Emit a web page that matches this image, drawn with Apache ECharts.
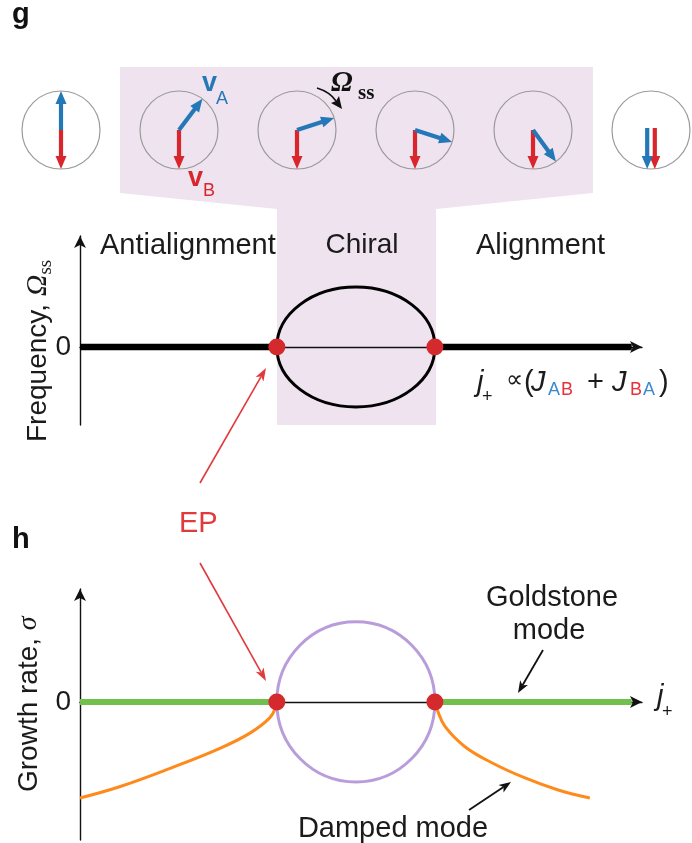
<!DOCTYPE html>
<html><head><meta charset="utf-8">
<script src="https://cdn.jsdelivr.net/npm/echarts@6/dist/echarts.min.js"></script>
<style>html,body{margin:0;padding:0;background:#fff}#c{width:692px;height:843px}</style>
</head><body><div id="c"></div>
<script>
// ---------------- data ----------------
const jRange = [-3.49, 3.62];            // j+ axis extent
const freqRange = [-1.3, 1.85];          // Omega_ss axis extent
const growthRange = [-1.725, 1.41];      // sigma axis extent
const epPoints = [[-1, 0], [1, 0]];      // exceptional points
const freqAntiAlign = [[-3.49, 0], [-1, 0]];
const freqAlign = [[1, 0], [3.49, 0]];
const chiralEllipse = [[0, 1, 1]];       // centre j, half width, half height
const goldstoneLeft = [[-3.49, 0], [-1, 0]];
const goldstoneRight = [[1, 0], [3.49, 0]];
const growthCircle = [[0, 1, 1]];
const dampedLeft = [[-3.49, -1.20], [-2.99, -1.06], [-2.35, -0.83], [-1.72, -0.58], [-1.34, -0.39], [-1.09, -0.20], [-1.01, -0.06], [-1, 0]];
const dampedRight = [[1, 0], [1.03, -0.10], [1.13, -0.31], [1.38, -0.56], [1.72, -0.76], [2.14, -0.95], [2.56, -1.10], [2.96, -1.20]];
const phaseIndex = [0, 1, 2, 3, 4, 5];
const vAAngles = [90, 53, 18, -18, -54, -90];
const vBAngles = [-90, -90, -90, -90, -90, -90];

// ---------------- style ----------------
const SANS = '"Liberation Sans", Arial, Helvetica, sans-serif';
const SERIF = '"Liberation Serif", "DejaVu Serif", serif';
const INK = '#1b1b1b';
const RED = '#d9262c';
const BLUE = '#2478b8';
const EPRED = '#d42a2e';
const GREEN = '#71bf4d';
const ORANGE = '#ff8a1c';
const PURPLE = '#b99ddb';
const SHADE = '#efe3ef';

const mctx = document.createElement('canvas').getContext('2d');
function tw(t, size, family, style, weight) {
  mctx.font = (style || 'normal') + ' ' + (weight || 'normal') + ' ' + size + 'px ' + family;
  return mctx.measureText(t).width;
}
function txt(t, x, y, o) {
  o = o || {};
  return {
    type: 'text', x: x, y: y, z: 100,
    style: {
      text: t, fontSize: o.size || 29, fontFamily: o.family || SANS,
      fontStyle: o.style || 'normal', fontWeight: o.weight || 'normal',
      fill: o.color || INK, align: o.align || 'left', verticalAlign: 'middle',
      textAlign: o.align || 'left', textVerticalAlign: 'middle'
    }
  };
}
// sequential run of pieces starting at x (left), mid-line y
function run(x, y, pieces) {
  const out = []; let cx = x;
  pieces.forEach(p => {
    const size = p.size || 28, fam = p.family || SANS;
    out.push(txt(p.t, cx + (p.dx || 0), y + (p.dy || 0), {size: size, family: fam, style: p.style, weight: p.weight, color: p.color}));
    cx += tw(p.t, size, fam, p.style, p.weight) + (p.dx || 0) + (p.gap || 0);
  });
  return out;
}
function arrowEls(x0, y0, x1, y1, color, lw, hl, hw) {
  const dx = x1 - x0, dy = y1 - y0, L = Math.hypot(dx, dy), ux = dx / L, uy = dy / L;
  const bx = x1 - ux * hl, by = y1 - uy * hl;
  return [
    {type: 'line', z: 50, shape: {x1: x0, y1: y0, x2: bx + ux * 3, y2: by + uy * 3}, style: {stroke: color, lineWidth: lw}},
    {type: 'polygon', z: 50, shape: {points: [[x1, y1], [bx - uy * hw / 2, by + ux * hw / 2], [bx + ux * hl * 0.25, by + uy * hl * 0.25], [bx + uy * hw / 2, by - ux * hw / 2]]}, style: {fill: color}}
  ];
}
function arrowPoly(x0, y0, x1, y1, sw, hl, hw) {
  const dx = x1 - x0, dy = y1 - y0, L = Math.hypot(dx, dy), ux = dx / L, uy = dy / L, nx = -uy, ny = ux;
  const bx = x1 - ux * hl, by = y1 - uy * hl;
  return [[x0 + nx * sw / 2, y0 + ny * sw / 2], [bx + nx * sw / 2, by + ny * sw / 2], [bx + nx * hw / 2, by + ny * hw / 2], [x1, y1],
          [bx - nx * hw / 2, by - ny * hw / 2], [bx - nx * sw / 2, by - ny * sw / 2], [x0 - nx * sw / 2, y0 - ny * sw / 2]];
}

// ---------------- graphics (annotations) ----------------
const g = [];
g.push({type: 'polygon', z: -10, shape: {points: [[120, 67], [593, 67], [593, 193], [436, 209], [436, 425], [277, 425], [277, 209], [120, 193]]}, style: {fill: SHADE}});
g.push(txt('g', 12, 15, {weight: 'bold', size: 29, color: '#111'}));
g.push(txt('h', 12, 540, {weight: 'bold', size: 29, color: '#111'}));
// vA, vB, Omega_ss
g.push(txt('v', 202, 83.5, {weight: 'bold', size: 27, color: BLUE}));
g.push(txt('A', 216, 99, {size: 18, color: BLUE}));
g.push(txt('v', 188, 178.5, {weight: 'bold', size: 27, color: RED}));
g.push(txt('B', 203, 191, {size: 18, color: RED}));
g.push(txt('\u03A9', 331, 84, {family: SERIF, style: 'italic', weight: 'bold', size: 29, color: '#111'}));
g.push(txt('ss', 358, 93.5, {family: SERIF, weight: 'bold', size: 21, color: '#111'}));
g.push({type: 'bezierCurve', z: 50, shape: {x1: 317, y1: 88, cpx1: 330, cpy1: 92, x2: 336, y2: 101}, style: {stroke: '#111', lineWidth: 1.6, fill: 'none'}});
g.push({type: 'polygon', z: 50, shape: {points: [[342, 109], [331, 103], [336, 101], [339, 96]]}, style: {fill: '#111'}});
// regime labels
g.push(txt('Antialignment', 100, 245.6));
g.push(txt('Chiral', 362, 245.6, {size: 28, align: 'center'}));
g.push(txt('Alignment', 476, 245.6));
// x label panel g
g.push(txt('j', 477, 383, {style: 'italic'}));
g.push(txt('+', 482, 397, {size: 18}));
g.push(txt('\u221D', 506, 381, {size: 24, family: '"DejaVu Sans", ' + SANS}));
g.push(txt('(', 524, 383));
g.push(txt('J', 531, 383, {style: 'italic'}));
g.push(txt('A', 548, 390, {size: 18, color: '#3b8ad0'}));
g.push(txt('B', 561, 390, {size: 18, color: '#e6323a'}));
g.push(txt('+', 587, 383));
g.push(txt('J', 612, 383, {style: 'italic'}));
g.push(txt('B', 630, 390, {size: 18, color: '#e6323a'}));
g.push(txt('A', 643, 390, {size: 18, color: '#3b8ad0'}));
g.push(txt(')', 659, 383));
// y names (rotated)
g.push({type: 'group', x: 38, y: 442, rotation: Math.PI / 2, z: 100, children: run(0, 0, [
  {t: 'Frequency, '},
  {t: '\u03A9', family: SERIF, style: 'italic', size: 30},
  {t: 'ss', family: SERIF, size: 19, dy: 8}
])});
g.push({type: 'group', x: 29, y: 792, rotation: Math.PI / 2, z: 100, children: run(0, 0, [
  {t: 'Growth rate, '},
  {t: '\u03C3', family: SERIF, style: 'italic'}
])});
// EP label and arrows
g.push(txt('EP', 179, 523.5, {color: '#e0393e'}));
arrowEls(200, 483, 266, 368, '#e0393e', 1.6, 13, 9).forEach(e => g.push(e));
arrowEls(200, 563, 266, 681, '#e0393e', 1.6, 13, 9).forEach(e => g.push(e));
// panel h labels
g.push(txt('Goldstone', 552, 597.5, {align: 'center'}));
g.push(txt('mode', 549, 630.5, {align: 'center'}));
g.push(txt('Damped mode', 393, 828.5, {align: 'center'}));
arrowEls(543, 650, 518, 693, '#111', 1.8, 12, 9).forEach(e => g.push(e));
arrowEls(469, 810, 511, 782, '#111', 1.8, 12, 9).forEach(e => g.push(e));
g.push(txt('j', 657, 697, {style: 'italic'}));
g.push(txt('+', 662, 712, {size: 18}));

// ---------------- axes ----------------
function jAxis(gi) {
  return {gridIndex: gi, type: 'value', min: jRange[0], max: jRange[1],
    axisLine: {show: true, onZero: true, symbol: ['none', 'arrow'], symbolSize: [9, 12], lineStyle: {color: '#111', width: 1.4}},
    axisTick: {show: false}, axisLabel: {show: false}, splitLine: {show: false}};
}
function vAxis(gi, range) {
  return {gridIndex: gi, type: 'value', min: range[0], max: range[1],
    axisLine: {show: true, onZero: false, symbol: ['none', 'arrow'], symbolSize: [9, 12], lineStyle: {color: '#111', width: 1.4}},
    axisTick: {show: false}, splitLine: {show: false},
    axisLabel: {show: true, customValues: [0], formatter: v => (Math.abs(v) < 1e-9 ? '0' : ''), fontSize: 28, fontFamily: SANS, color: INK, margin: 9}};
}
function ellipseItem(color, lw) {
  return function (params, api) {
    const c = api.coord([api.value(0), 0]);
    const s = api.size([api.value(1), api.value(2)]);
    return {type: 'ellipse', shape: {cx: c[0], cy: c[1], rx: s[0], ry: s[1]}, style: {fill: 'none', stroke: color, lineWidth: lw}};
  };
}

const phaseData = phaseIndex.map((i, k) => [i, vAAngles[k], vBAngles[k]]);

const option = {
  animation: false,
  backgroundColor: '#fff',
  grid: [
    {left: 80, top: 236, width: 562, height: 189},
    {left: 80, top: 589, width: 562, height: 251},
    {left: 61, top: 91, width: 590, height: 78}
  ],
  xAxis: [jAxis(0), jAxis(1), {gridIndex: 2, type: 'value', min: 0, max: 5, show: false}],
  yAxis: [vAxis(0, freqRange), vAxis(1, growthRange), {gridIndex: 2, type: 'value', min: -1, max: 1, show: false}],
  graphic: {elements: g},
  series: [
    {type: 'line', xAxisIndex: 0, yAxisIndex: 0, data: freqAntiAlign, symbol: 'none', lineStyle: {color: '#000', width: 6.5}, z: 3},
    {type: 'line', xAxisIndex: 0, yAxisIndex: 0, data: freqAlign, symbol: 'none', lineStyle: {color: '#000', width: 6.5}, z: 3},
    {type: 'custom', xAxisIndex: 0, yAxisIndex: 0, data: chiralEllipse, renderItem: ellipseItem('#000', 3), z: 4},
    {type: 'scatter', xAxisIndex: 0, yAxisIndex: 0, data: epPoints, symbolSize: 17, itemStyle: {color: EPRED, opacity: 1}, z: 6},

    {type: 'line', xAxisIndex: 1, yAxisIndex: 1, data: goldstoneLeft, symbol: 'none', lineStyle: {color: GREEN, width: 6}, z: 3},
    {type: 'line', xAxisIndex: 1, yAxisIndex: 1, data: goldstoneRight, symbol: 'none', lineStyle: {color: GREEN, width: 6}, z: 3},
    {type: 'custom', xAxisIndex: 1, yAxisIndex: 1, data: growthCircle, renderItem: ellipseItem(PURPLE, 3), z: 4},
    {type: 'line', xAxisIndex: 1, yAxisIndex: 1, data: dampedLeft, symbol: 'none', smooth: 0.4, lineStyle: {color: ORANGE, width: 3}, z: 4},
    {type: 'line', xAxisIndex: 1, yAxisIndex: 1, data: dampedRight, symbol: 'none', smooth: 0.4, lineStyle: {color: ORANGE, width: 3}, z: 4},
    {type: 'scatter', xAxisIndex: 1, yAxisIndex: 1, data: epPoints, symbolSize: 17, itemStyle: {color: EPRED, opacity: 1}, z: 6},

    {type: 'custom', xAxisIndex: 2, yAxisIndex: 2, data: phaseData, z: 5,
     renderItem: function (params, api) {
       const c = api.coord([api.value(0), 0]);
       const r = api.size([0, 1])[1];
       const a = api.value(1) * Math.PI / 180, b = api.value(2) * Math.PI / 180;
       const same = Math.abs(api.value(1) - api.value(2)) < 1e-6;
       const off = same ? 3.8 : 0, y0 = same ? -2 : 0;
       const mk = (ang, ox, col) => ({type: 'polygon', shape: {points: arrowPoly(c[0] + ox, c[1] + y0, c[0] + ox + r * Math.cos(ang), c[1] - r * Math.sin(ang), 4.2, 13, 11)}, style: {fill: col}});
       return {type: 'group', children: [
         {type: 'circle', shape: {cx: c[0], cy: c[1], r: r}, style: {fill: 'none', stroke: '#9a9a9a', lineWidth: 1.2}},
         mk(b, off, RED),
         mk(a, -off, BLUE)
       ]};
     }}
  ]
};
const chart = echarts.init(document.getElementById('c'), null, {renderer: 'canvas'});
chart.setOption(option);
</script></body></html>
